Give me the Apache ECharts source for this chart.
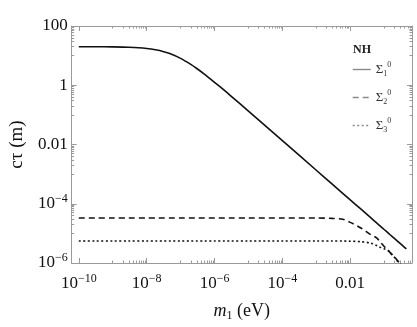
<!DOCTYPE html>
<html>
<head>
<meta charset="utf-8">
<script src="https://cdn.jsdelivr.net/npm/echarts@6/dist/echarts.min.js"></script>
<style>
  html, body { margin: 0; padding: 0; background: #fff; }
  #main { width: 417px; height: 327px; }
</style>
</head>
<body>
<div id="main"></div>
<script>
// m1 (eV) sampling points
var m1 = [1e-10, 3e-10, 1e-9, 3e-9, 1e-8, 2e-8, 3e-8, 5e-8, 1e-7, 2e-7, 3e-7, 5e-7, 1e-6, 2e-6, 3e-6,
  1e-5, 1e-4, 1e-3, 3e-3, 6e-3, 0.01, 0.02, 0.04, 0.06, 0.08, 0.1, 0.13, 0.15, 0.2, 0.26, 0.3, 0.35, 0.45]
// c tau (m)
var sigma1 = [20, 19.9, 19.7, 19.1, 17.4, 15.4, 13.8, 11.5, 8.06, 5.05, 3.67, 2.38, 1.26, 0.653, 0.44,
  0.134, 0.0135, 1.35e-3, 4.5e-4, 2.25e-4, 1.35e-4, 6.8e-5, 3.4e-5, 2.25e-5, 1.69e-5, 1.35e-5, 1.04e-5, 9.0e-6, 6.75e-6, 5.2e-6, 4.5e-6, 3.86e-6, 3.0e-6]
var sigma2 = [3.3e-5, 3.3e-5, 3.3e-5, 3.3e-5, 3.3e-5, 3.3e-5, 3.3e-5, 3.3e-5, 3.3e-5, 3.3e-5, 3.3e-5, 3.3e-5, 3.3e-5, 3.3e-5, 3.3e-5,
  3.3e-5, 3.3e-5, 3.3e-5, 3.2e-5, 3.0e-5, 2.35e-5, 1.55e-5, 9.1e-6, 7.1e-6, 4.8e-6, 3.6e-6, 2.66e-6, 2.24e-6, 1.62e-6, 1.12e-6, 9.3e-7, null, null]
var sigma3 = [5.5e-6, 5.5e-6, 5.5e-6, 5.5e-6, 5.5e-6, 5.5e-6, 5.5e-6, 5.5e-6, 5.5e-6, 5.5e-6, 5.5e-6, 5.5e-6, 5.5e-6, 5.5e-6, 5.5e-6,
  5.5e-6, 5.5e-6, 5.5e-6, 5.5e-6, 5.5e-6, 5.45e-6, 5.25e-6, 4.7e-6, 3.9e-6, 3.3e-6, 3.0e-6, 2.65e-6, 2.2e-6, 1.58e-6, 1.08e-6, 9.0e-7, null, null]

var seriesNames = ['S1', 'S2', 'S3']
var xMajor = [1e-10, 1e-8, 1e-6, 1e-4, 1e-2]
var yMajor = [1e-6, 1e-4, 1e-2, 1, 100]

// minor ticks: the odd decade and its 2..9 multiples
function minorTicks(from, to) {
  var out = []
  for (var e = from; e <= to; e += 2) {
    for (var k = 1; k <= 9; k++) out.push(k * Math.pow(10, e))
  }
  return out
}
var xMinor = minorTicks(-9, -1)
var yMinor = minorTicks(-5, 1)

var FONT = 'Liberation Serif'
var frameColor = '#9a9a9a'

function powLabel(v) {
  var e = Math.round(Math.log10(v))
  if (e >= 0) return '{b|' + Math.pow(10, e) + '}'
  if (e >= -2) return '{b|0.' + '0'.repeat(-e - 1) + '1}'
  return '{b|10}{e|\u2212' + (-e) + '}'
}

var labelRich = {
  b: { fontFamily: FONT, fontSize: 17, lineHeight: 22, color: '#111' },
  e: { fontFamily: FONT, fontSize: 12, lineHeight: 12, verticalAlign: 'top', color: '#111' },
}

function makeAxis(kind, pos, ticks, len, withLabels, withLine) {
  var ax = {
    type: 'log',
    position: pos,
    min: kind === 'x' ? Math.pow(10, -10.21) : 1e-6,
    max: kind === 'x' ? Math.pow(10, -0.18) : 100,
    axisLine: { show: withLine, onZero: false, lineStyle: { color: frameColor, width: 1 } },
    axisTick: { show: true, inside: true, length: len, customValues: ticks, lineStyle: { color: frameColor, width: 1 } },
    axisLabel: { show: withLabels },
    splitLine: { show: false },
    minorTick: { show: false },
  }
  if (withLabels) {
    ax.axisLabel = {
      show: true,
      customValues: ticks,
      formatter: powLabel,
      rich: labelRich,
      margin: kind === 'x' ? 10 : 4,
      color: '#111',
    }
  }
  return ax
}

var chart = echarts.init(document.getElementById('main'))

var xAxes = [
  makeAxis('x', 'bottom', xMajor, 5, true, true),
  makeAxis('x', 'top', xMajor, 5, false, true),
  makeAxis('x', 'bottom', xMinor, 2.5, false, false),
  makeAxis('x', 'top', xMinor, 2.5, false, false),
]
xAxes[0].name = '{i|m}{s|1} (eV)'
xAxes[0].nameLocation = 'middle'
xAxes[0].nameGap = 37
xAxes[0].nameTextStyle = {
  fontFamily: FONT, fontSize: 18, color: '#111',
  rich: {
    i: { fontFamily: FONT, fontSize: 18, fontStyle: 'italic', color: '#111', lineHeight: 22 },
    s: { fontFamily: FONT, fontSize: 12, verticalAlign: 'bottom', color: '#111', lineHeight: 14 },
  },
}

var yAxes = [
  makeAxis('y', 'left', yMajor, 5, true, true),
  makeAxis('y', 'right', yMajor, 5, false, true),
  makeAxis('y', 'left', yMinor, 2.5, false, false),
  makeAxis('y', 'right', yMinor, 2.5, false, false),
]
yAxes[0].name = 'c\u03c4 (m)'
yAxes[0].nameLocation = 'middle'
yAxes[0].nameRotate = 90
yAxes[0].nameGap = 43
yAxes[0].nameTextStyle = { fontFamily: FONT, fontSize: 19, color: '#111' }

function lineSeries(name, vals, dash) {
  return {
    name: name,
    type: 'line',
    data: m1.map(function (x, i) { return vals[i] == null ? null : [x, vals[i]] }),
    showSymbol: false,
    symbol: 'none',
    smooth: 0.3,
    clip: true,
    itemStyle: { color: '#111' },
    lineStyle: { color: '#111', width: 1.6, type: dash },
  }
}

var legendText = {
  S1: '{s|\u03a3}{d|1}{u|0}',
  S2: '{s|\u03a3}{d|2}{u|0}',
  S3: '{s|\u03a3}{d|3}{u|0}',
}

var option = {
  animation: false,
  backgroundColor: '#fff',
  title: {
    text: 'NH',
    left: 348,
    top: 39,
    textStyle: { fontFamily: FONT, fontWeight: 'bold', fontSize: 12, color: '#222' },
  },
  legend: {
    orient: 'vertical',
    left: 347,
    top: 56,
    itemWidth: 18,
    itemHeight: 12,
    itemGap: 11,
    data: seriesNames,
    lineStyle: { color: '#8a8a8a', width: 1.4 },
    itemStyle: { color: 'rgba(0,0,0,0)', borderWidth: 0, opacity: 0 },
    formatter: function (n) { return legendText[n] },
    textStyle: {
      color: '#333',
      rich: {
        s: { fontFamily: FONT, fontSize: 13, lineHeight: 17, color: '#333' },
        d: { fontFamily: FONT, fontSize: 8, lineHeight: 8, verticalAlign: 'bottom', color: '#333' },
        u: { fontFamily: FONT, fontSize: 8, lineHeight: 8, verticalAlign: 'top', color: '#333' },
      },
    },
  },
  grid: { left: 63, right: 5, top: 26, bottom: 58 },
  xAxis: xAxes,
  yAxis: yAxes,
  series: [
    lineSeries('S1', sigma1, 'solid'),
    lineSeries('S2', sigma2, [6, 4]),
    lineSeries('S3', sigma3, [2, 2.5]),
  ],
}

chart.setOption(option)
</script>
</body>
</html>
